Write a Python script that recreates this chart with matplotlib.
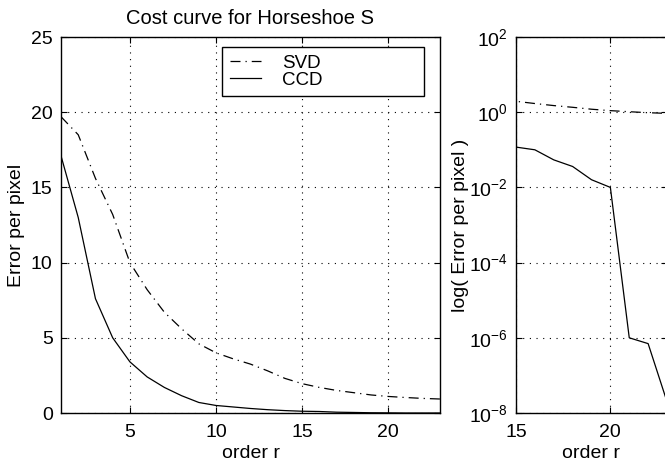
import numpy as np
import matplotlib
matplotlib.use("Agg")
from matplotlib import pyplot as plt

plt.rcParams["font.family"] = ["Liberation Sans", "DejaVu Sans"]
plt.rcParams["mathtext.fontset"] = "custom"
plt.rcParams["mathtext.rm"] = "Liberation Sans"

order = np.arange(1, 24)
svd_err = [19.7, 18.5, 15.6, 13.2, 10.0, 8.2, 6.7, 5.6, 4.6, 4.0,
           3.6, 3.25, 2.8, 2.3, 1.95, 1.7, 1.5, 1.35, 1.2, 1.1,
           1.03, 0.97, 0.93]
ccd_err = [17.1, 13.0, 7.6, 5.0, 3.4, 2.4, 1.7, 1.15, 0.7, 0.5,
           0.4, 0.3, 0.22, 0.16, 0.118, 0.1, 0.054, 0.036, 0.016, 0.01,
           1e-6, 7e-7, 2e-8]

W, H = 665, 468


def px_axes(left, top, right, bottom):
    return [left / W, 1 - bottom / H, (right - left) / W, (bottom - top) / H]


def matlab_style(ax):
    ax.grid(True, linestyle=(0, (1, 5)), color="black", linewidth=0.8)
    ax.tick_params(direction="in", top=True, right=True, labelsize=14,
                   length=4, width=0.8, which="major")
    ax.tick_params(axis="x", pad=8)
    ax.tick_params(axis="y", pad=6)
    ax.tick_params(which="minor", length=0)
    for s in ax.spines.values():
        s.set_linewidth(1.0)


fig = plt.figure(figsize=(W / 100, H / 100), dpi=100)

# left: linear scale
ax1 = fig.add_axes(px_axes(61, 37, 440, 413))
ax1.plot(order, svd_err, color="black", linestyle=(0, (8, 4, 1, 4)),
         linewidth=0.9, label="SVD")
ax1.plot(order, ccd_err, color="black", linestyle="-", linewidth=0.9,
         label="CCD")
ax1.set_xlim(1, 23)
ax1.set_ylim(0, 25)
ax1.set_xticks([5, 10, 15, 20])
ax1.set_yticks([0, 5, 10, 15, 20, 25])
matlab_style(ax1)
ax1.set_xlabel("order r", fontsize=14, labelpad=3)
ax1.set_ylabel("Error per pixel", fontsize=14, labelpad=4)
ax1.set_title("Cost curve for Horseshoe S", fontsize=14.5, pad=9)
leg = ax1.legend(loc="upper left", bbox_to_anchor=(0.425, 0.84, 0.533, 0.133),
                 mode="expand", borderaxespad=0, fontsize=13.5, frameon=True,
                 fancybox=False, edgecolor="black", framealpha=1,
                 handlelength=1.7, labelspacing=0.0, borderpad=0.4,
                 handletextpad=1.1)
leg.get_frame().set_linewidth(1.0)

# right: log scale
ax2 = fig.add_axes(px_axes(516, 37, 667, 413))
ax2.semilogy(order, svd_err, color="black", linestyle=(0, (8, 4, 1, 4)),
             linewidth=0.9)
ax2.semilogy(order, ccd_err, color="black", linestyle="-", linewidth=0.9)
ax2.set_xlim(15, 23)
ax2.set_ylim(1e-8, 1e2)
ax2.set_xticks([15, 20])
ax2.set_yticks([1e-8, 1e-6, 1e-4, 1e-2, 1e0, 1e2])
matlab_style(ax2)
ax2.set_xlabel("order r", fontsize=14, labelpad=3)
ax2.set_ylabel("log( Error per pixel )", fontsize=14, labelpad=0)

fig.savefig("out.png", dpi=100)
